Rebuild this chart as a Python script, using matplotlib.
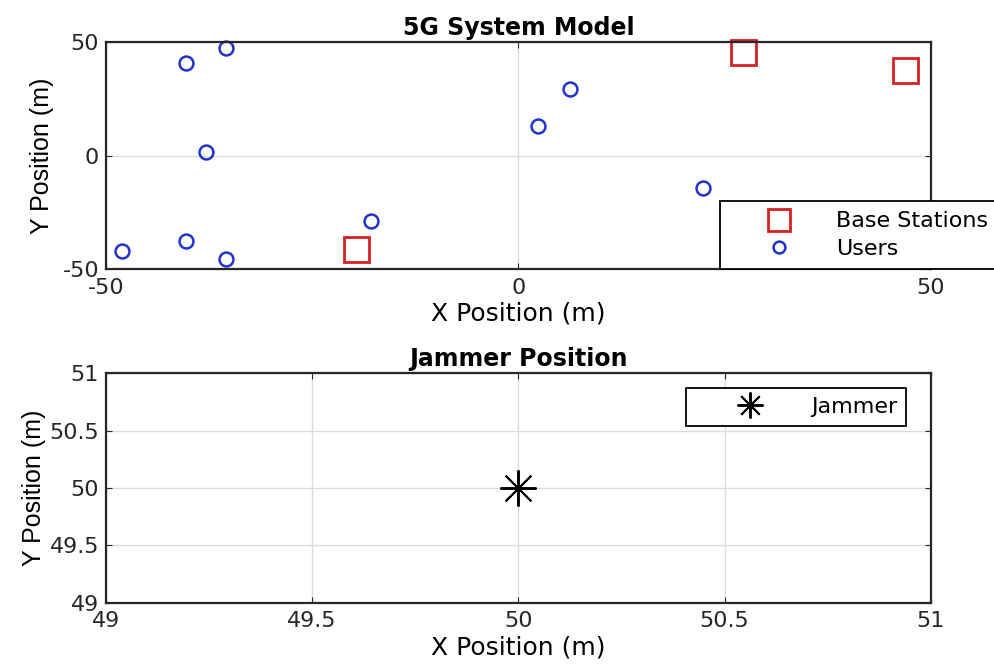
from matplotlib import pyplot as plt

plt.rcParams['font.family'] = ['DejaVu Sans']
plt.rcParams['axes.unicode_minus'] = False

# base station and user positions (m)
bs_x = [-19.7, 27.2, 46.9]
bs_y = [-41.1, 45.5, 37.7]

user_x = [-48.0, -40.3, -35.5, -40.3, -35.5, -37.9, -17.9, 6.3, 2.4, 22.4]
user_y = [-41.9, -37.7, -45.5, 40.7, 47.3, 1.8, -28.6, 29.4, 12.9, -14.4]

jam_x = [50.0]
jam_y = [50.0]

top_ticks = [-50, 0, 50]
jam_ticks = [49, 49.5, 50, 50.5, 51]
jam_labels = ['49', '49.5', '50', '50.5', '51']

grid_col = '#dcdcdc'
ylab_font = ['Liberation Sans', 'DejaVu Sans']

fig = plt.figure(figsize=(9.95, 6.68), dpi=100)

# top panel - system model
ax1 = fig.add_axes([0.1065, 0.597, 0.829, 0.340])
ax1.plot(bs_x, bs_y, 's', color='#d62020', mfc='none', markersize=18, mew=2,
         label='Base Stations', clip_on=False)
ax1.plot(user_x, user_y, 'o', color='#2233cc', mfc='none', markersize=10, mew=1.8,
         label='Users', clip_on=False)
ax1.set_xlim(-50, 50)
ax1.set_ylim(-50, 50)
ax1.set_xticks(top_ticks)
ax1.set_yticks(top_ticks)
ax1.grid(True, color=grid_col, linewidth=1)
ax1.set_axisbelow(True)
ax1.set_title('5G System Model', fontsize=17, fontweight='bold', pad=5)
ax1.set_xlabel('X Position (m)', fontsize=18, labelpad=3)
ax1.set_ylabel('Y Position (m)', fontsize=18, labelpad=6, family=ylab_font)
leg1 = ax1.legend(loc='lower left', bbox_to_anchor=(0.744, 0.0), borderaxespad=0,
                  fancybox=False, edgecolor='black', framealpha=1, fontsize=16,
                  handlelength=4.4, handletextpad=0.4, borderpad=0.45,
                  labelspacing=0.35, markerscale=0.85)
leg1.get_frame().set_linewidth(1.3)

# bottom panel - jammer
ax2 = fig.add_axes([0.1065, 0.0975, 0.829, 0.344])
ax2.plot(jam_x, jam_y, linestyle='none', marker=(8, 2, 0), color='black',
         markersize=26, mew=1.4, label='Jammer')
ax2.set_xlim(49, 51)
ax2.set_ylim(49, 51)
ax2.set_xticks(jam_ticks)
ax2.set_yticks(jam_ticks)
ax2.set_xticklabels(jam_labels)
ax2.set_yticklabels(jam_labels)
ax2.grid(True, color=grid_col, linewidth=1)
ax2.set_axisbelow(True)
ax2.set_title('Jammer Position', fontsize=17, fontweight='bold', pad=5)
ax2.set_xlabel('X Position (m)', fontsize=18, labelpad=3)
ax2.set_ylabel('Y Position (m)', fontsize=18, labelpad=2, family=ylab_font)
leg2 = ax2.legend(loc='upper right', bbox_to_anchor=(0.970, 0.935), borderaxespad=0,
                  fancybox=False, edgecolor='black', framealpha=1, fontsize=16,
                  handlelength=4.9, handletextpad=0.3, borderpad=0.4, markerscale=0.72)
leg2.get_frame().set_linewidth(1.3)

for ax in (ax1, ax2):
    ax.tick_params(direction='in', top=True, right=True, labelsize=16, length=4,
                   colors='#262626')
    ax.tick_params(axis='x', pad=6)
    ax.tick_params(axis='y', pad=5)
    for s in ax.spines.values():
        s.set_linewidth(1.6)
        s.set_color('#262626')

fig.savefig('out.png', dpi=100)
